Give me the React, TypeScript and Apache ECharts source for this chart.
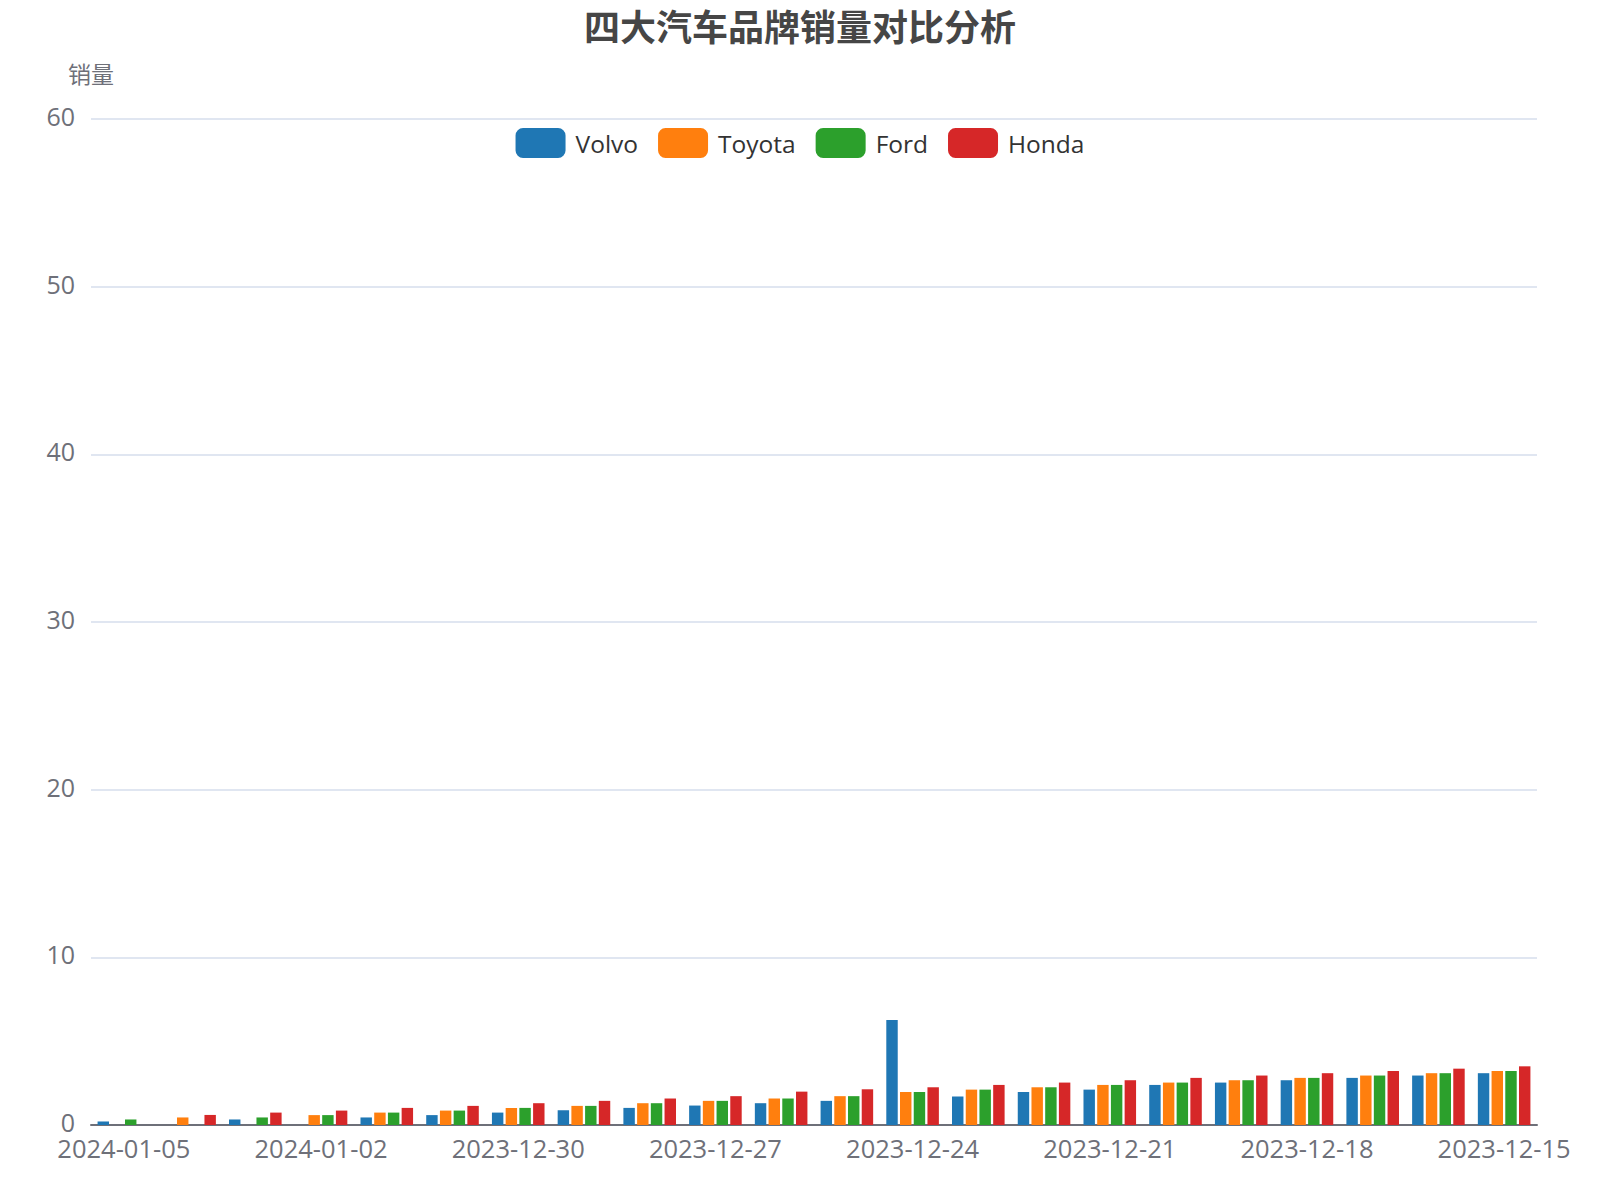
import React, { useEffect, useRef } from "react";
import * as echarts from "echarts";

const categories = [
  "2024-01-05", "2024-01-04", "2024-01-03", "2024-01-02", "2024-01-01", "2023-12-31",
  "2023-12-30", "2023-12-29", "2023-12-28", "2023-12-27", "2023-12-26", "2023-12-25",
  "2023-12-24", "2023-12-23", "2023-12-22", "2023-12-21", "2023-12-20", "2023-12-19",
  "2023-12-18", "2023-12-17", "2023-12-16", "2023-12-15",
];

const volvo = [0.21, 0, 0.33, 0, 0.45, 0.59, 0.74, 0.88, 1.02, 1.16, 1.3, 1.44, 6.26, 1.7, 1.97, 2.11, 2.39, 2.53, 2.67, 2.81, 2.95, 3.09];
const toyota = [0, 0.45, 0, 0.59, 0.74, 0.86, 1.02, 1.14, 1.3, 1.44, 1.58, 1.72, 1.97, 2.11, 2.25, 2.39, 2.53, 2.67, 2.81, 2.95, 3.09, 3.22];
const ford = [0.33, 0, 0.45, 0.59, 0.74, 0.86, 1.02, 1.14, 1.3, 1.44, 1.58, 1.72, 1.97, 2.11, 2.25, 2.39, 2.53, 2.67, 2.81, 2.95, 3.09, 3.22];
const honda = [0, 0.6, 0.74, 0.86, 1.02, 1.14, 1.3, 1.44, 1.58, 1.72, 1.99, 2.13, 2.25, 2.39, 2.53, 2.67, 2.81, 2.95, 3.09, 3.22, 3.36, 3.5];

const seriesNames = ["Volvo", "Toyota", "Ford", "Honda"];
const seriesColors = ["#1f77b4", "#ff7f0e", "#2ca02c", "#d62728"];
const seriesData = [volvo, toyota, ford, honda];

const FONT = "'Open Sans', 'Noto Sans CJK SC', sans-serif";

export default function App() {
  const ref = useRef<HTMLDivElement>(null);

  useEffect(() => {
    document.body.style.margin = "0";
    if (!ref.current) return;
    const chart = echarts.init(ref.current, undefined, { renderer: "svg" });
    chart.setOption({
      animation: false,
      backgroundColor: "#ffffff",
      textStyle: { fontFamily: FONT },
      title: {
        text: "四大汽车品牌销量对比分析",
        left: "center",
        top: 2,
        textStyle: {
          fontSize: 36,
          fontWeight: "bold",
          color: "#464646",
          fontFamily: "'Noto Sans CJK SC', sans-serif",
        },
      },
      legend: {
        data: seriesNames,
        top: 123,
        left: "center",
        itemWidth: 50,
        itemHeight: 30,
        itemGap: 20,
        textStyle: { fontSize: 24.5, color: "#333333", fontFamily: FONT, padding: [0, 0, 3, 5] },
      },
      grid: { left: 91, right: 63, top: 119, bottom: 75, containLabel: false },
      xAxis: {
        type: "category",
        data: categories,
        axisLine: { lineStyle: { color: "#6E7079", width: 2 } },
        axisTick: { interval: 2, length: 9, lineStyle: { color: "#6E7079", width: 2 } },
        axisLabel: { interval: 2, fontSize: 25.5, color: "#6E7079", margin: 10, fontFamily: FONT },
      },
      yAxis: {
        type: "value",
        name: "销量",
        nameGap: 35,
        nameTextStyle: { fontSize: 23, color: "#6E7079", fontFamily: "'Noto Sans CJK SC', sans-serif" },
        min: 0,
        max: 60,
        interval: 10,
        axisLine: { show: false },
        axisTick: { show: false },
        axisLabel: {
          fontSize: 25,
          color: "#6E7079",
          margin: 16,
          fontFamily: FONT,
          verticalAlign: "bottom",
          lineHeight: 6,
        },
        splitLine: { lineStyle: { color: "#E0E6F1", width: 2 } },
      },
      series: seriesNames.map((name, i) => ({
        name,
        type: "bar",
        data: seriesData[i],
        barGap: "20%",
        barCategoryGap: "20%",
        itemStyle: { color: seriesColors[i] },
      })),
    });
    return () => chart.dispose();
  }, []);

  return <div ref={ref} style={{ width: 1600, height: 1200 }} />;
}
